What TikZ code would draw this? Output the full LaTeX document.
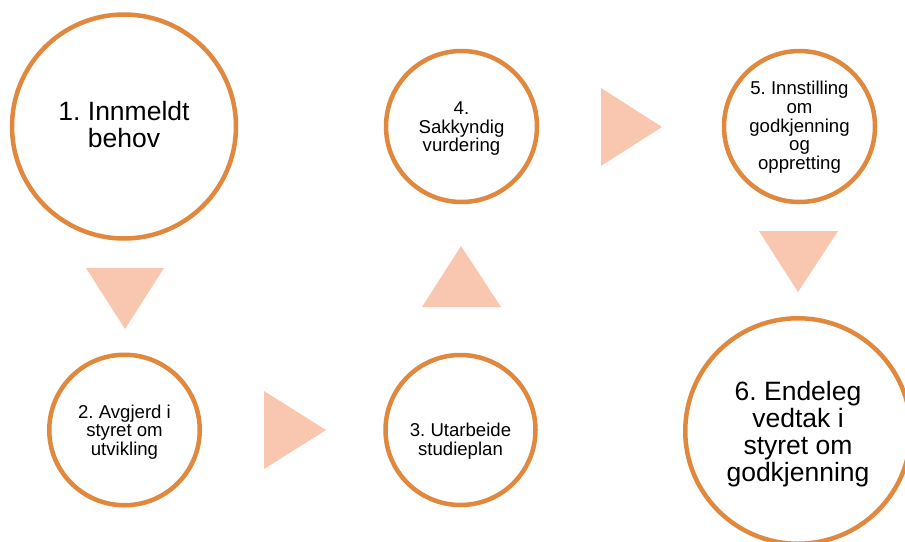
\documentclass[tikz,border=0pt]{standalone}
\usepackage{fontspec}
\setmainfont{Liberation Sans}
\frenchspacing
\definecolor{ringc}{HTML}{E0883E}
\definecolor{pointc}{HTML}{F9C6AF}
\tikzset{
  ring/.style={circle, draw=ringc, line width=4.5pt, fill=white, inner sep=0pt},
  bigtxt/.style={align=center, text=black, inner sep=0pt, font=\fontsize{26.5}{27}\selectfont},
  smalltxt/.style={align=center, text=black, inner sep=0pt, font=\fontsize{18.6}{18.6}\selectfont},
  pointer/.style={fill=pointc, draw=none}
}
\begin{document}
\begin{tikzpicture}[x=1pt,y=-1pt]
\useasboundingbox (0,0) rectangle (905,541);
\clip (0,0) rectangle (905,541);
% rings
\node[ring, minimum size=224] (c1) at (124,126.5) {};
\node[ring, minimum size=150.5] (c2) at (124.5,430) {};
\node[ring, minimum size=150] (c3) at (460.5,430) {};
\node[ring, minimum size=151] (c4) at (461.5,126.5) {};
\node[ring, minimum size=151] (c5) at (799.5,126.5) {};
\node[ring, minimum size=225.5] (c6) at (798,431) {};
% texts
\node[bigtxt] (l1) at ([yshift=1.7pt]c1.center) {1. Innmeldt\\behov};
\node[smalltxt] (l2) at ([yshift=-2pt]c2.center) {2. Avgjerd i\\styret om\\utvikling};
\node[smalltxt] (l3) at ([yshift=-11pt]c3.center) {3. Utarbeide\\studieplan};
\node[smalltxt] (l4) at ([yshift=-2.4pt]c4.center) {4.\\Sakkyndig\\vurdering};
\node[smalltxt] (l5) at ([yshift=-0.8pt]c5.center) {5. Innstilling\\om\\godkjenning\\og\\oppretting};
\node[bigtxt] (l6) at ([yshift=-3pt]c6.center) {6. Endeleg\\vedtak i\\styret om\\godkjenning};
% pointers
\fill[pointer] (86,268) -- (164,268) -- (125,329) -- cycle;
\fill[pointer] (264,391) -- (264,469) -- (326,430) -- cycle;
\fill[pointer] (422,307) -- (501,307) -- (461,246) -- cycle;
\fill[pointer] (601,88) -- (601,166) -- (662,127) -- cycle;
\fill[pointer] (759,231) -- (838,231) -- (798,292) -- cycle;
\end{tikzpicture}
\end{document}
